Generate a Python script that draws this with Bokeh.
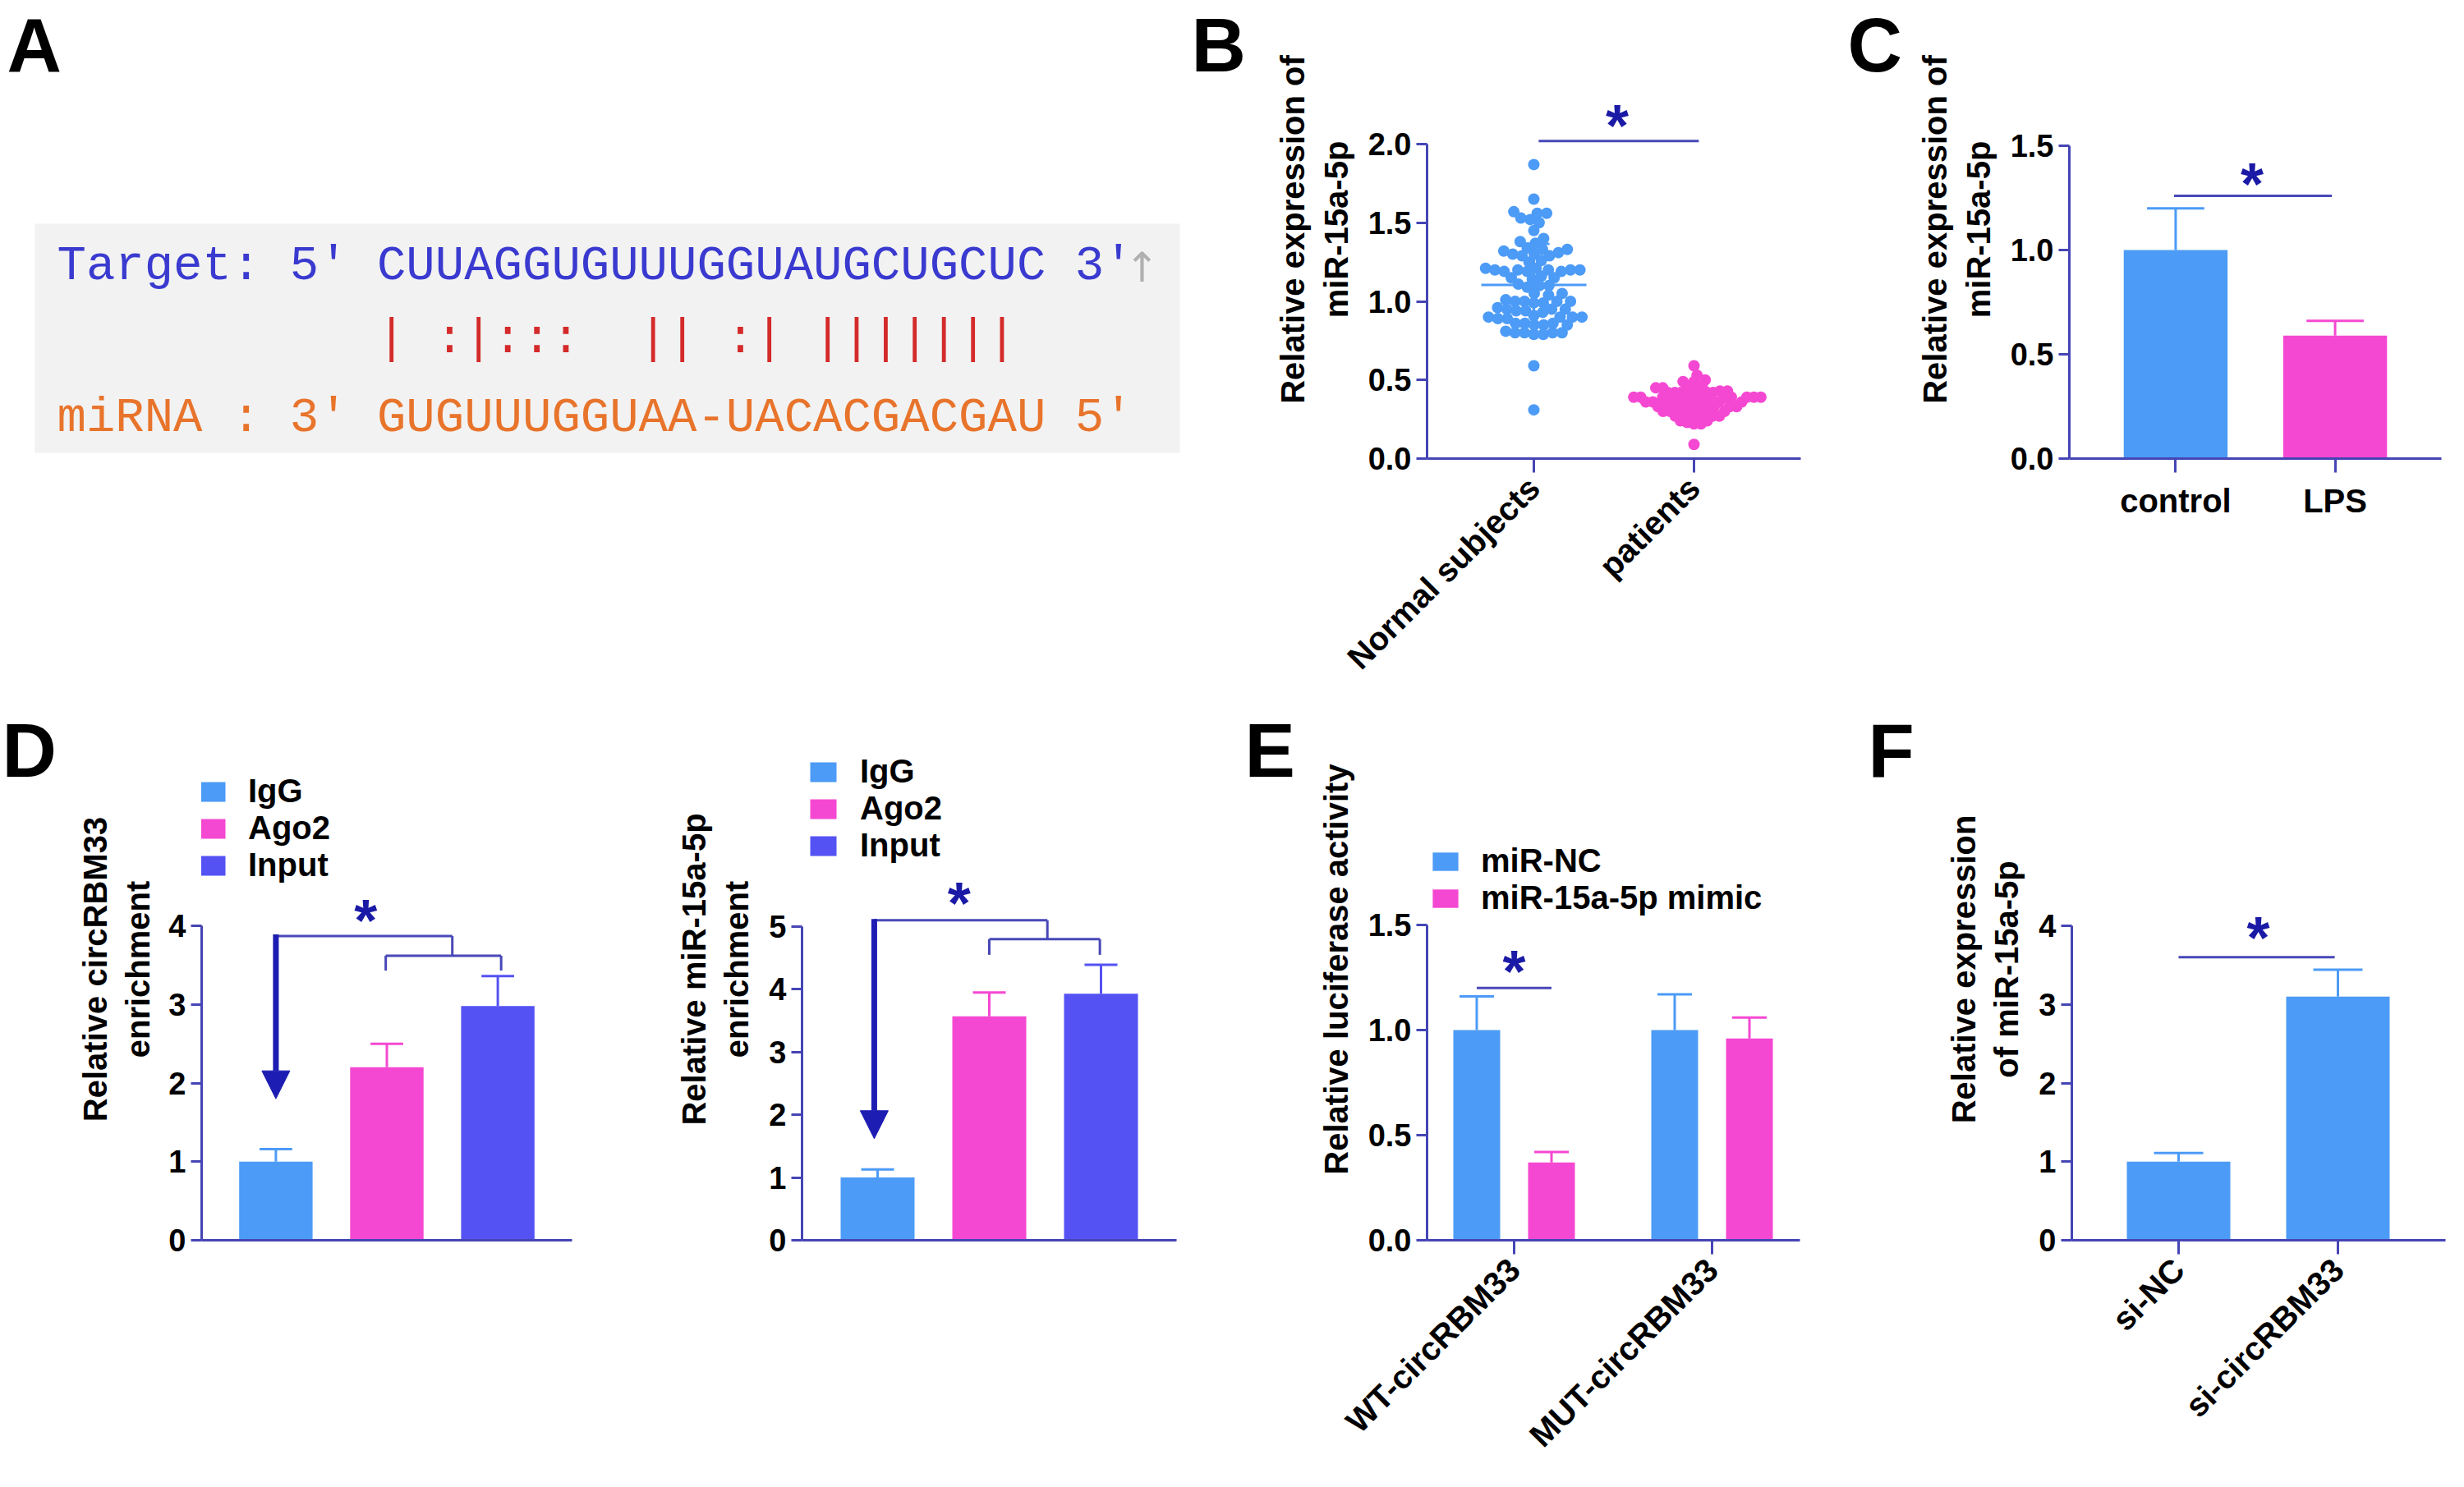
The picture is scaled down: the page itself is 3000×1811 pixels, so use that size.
import math
import numpy as np
from bokeh.plotting import figure
from bokeh.layouts import row, column
from bokeh.models import (Range1d, FixedTicker, Legend, LegendItem, Arrow,
                          NormalHead, NumeralTickFormatter, ColumnDataSource)
from bokeh.core.properties import value
from bokeh.embed import file_html
from bokeh.resources import INLINE

# ------------------------------------------------------------------ data
# Panel A : target / miRNA pairing
target_line = "Target: 5' CUUAGGUGUUUGGUAUGCUGCUC 3'"
pair_marks = list("| :|:::  || :| |||||||")
mirna_line = "miRNA : 3' GUGUUUGGUAA-UACACGACGAU 5'"

# Panel B : scatter (relative expression of miR-15a-5p)
b_groups = ["Normal subjects", "patients"]
b_normal = [1.87, 1.65, 1.57, 1.56, 1.56, 1.53, 1.52, 1.50, 1.45, 1.40, 1.38, 1.37,
            1.34, 1.33, 1.33, 1.32, 1.31, 1.30, 1.30, 1.29, 1.29, 1.26, 1.25,
            1.21, 1.21, 1.20, 1.20, 1.20, 1.19, 1.19, 1.20, 1.20, 1.19,
            1.15, 1.15, 1.14, 1.16, 1.10, 1.10, 1.09, 1.11, 1.05, 1.05, 1.04,
            1.00, 1.00, 1.01, 0.99, 1.00, 1.00, 0.99,
            0.95, 0.94, 0.95, 0.96, 0.94, 0.95, 0.93,
            0.90, 0.90, 0.89, 0.91, 0.90, 0.90, 0.89,
            0.86, 0.85, 0.86, 0.85, 0.85, 0.86,
            0.80, 0.80, 0.81, 0.79, 0.80, 0.80, 0.79, 0.59, 0.31]
b_patients = [0.59, 0.53, 0.50, 0.49, 0.49, 0.46, 0.45, 0.45, 0.44, 0.45,
              0.42, 0.42, 0.43, 0.42, 0.41, 0.42, 0.42, 0.43,
              0.39, 0.39, 0.38, 0.39, 0.39, 0.40, 0.39, 0.38, 0.39, 0.39, 0.38, 0.39,
              0.36, 0.36, 0.35, 0.36, 0.36, 0.37, 0.36, 0.36,
              0.33, 0.33, 0.32, 0.33, 0.33, 0.34, 0.33,
              0.30, 0.30, 0.29, 0.30, 0.31, 0.30,
              0.27, 0.27, 0.26, 0.27, 0.27,
              0.24, 0.24, 0.23, 0.22, 0.22, 0.09]

# Panel C
c_groups = ["control", "LPS"]
c_mean = [1.00, 0.59]
c_err = [0.20, 0.07]

# Panel D
d_series = ["IgG", "Ago2", "Input"]
d1_mean = [1.00, 2.20, 2.98]
d1_err = [0.16, 0.30, 0.38]
d2_mean = [1.00, 3.57, 3.93]
d2_err = [0.13, 0.38, 0.46]

# Panel E
e_groups = ["WT-circRBM33", "MUT-circRBM33"]
e_series = ["miR-NC", "miR-15a-5p mimic"]
e_nc = [1.00, 1.00]
e_nc_err = [0.16, 0.17]
e_mimic = [0.37, 0.96]
e_mimic_err = [0.05, 0.10]

# Panel F
f_groups = ["si-NC", "si-circRBM33"]
f_mean = [1.00, 3.10]
f_err = [0.11, 0.34]

# ------------------------------------------------------------------ style
FONT = "Liberation Sans"
MONO = "Liberation Mono"
BLUE = "#4c9bf6"
PINK = "#f548d2"
INDIGO = "#5552f4"
AXIS = "#4545b5"
SIG = "#4848b8"
STAR = "#1a1aa6"
ARROWC = "#1d1db3"
SEQ_BLUE = "#3a3ad0"
SEQ_ORANGE = "#e8742c"
SEQ_RED = "#d42a2a"
LETTER_SIZE = "92px"
LETTER_SHIFT = -32     # px, baseline correction for the big panel letters
SEQ_SHIFT = -11        # px, baseline correction for the sequence lines
STAR_SHIFT = 10        # px, vertical centring of the asterisk

TOP_ROW = (0, 850)        # page y of the top row
BOT_ROW = (850, 1795)     # page y of the bottom row
TOP_FRAME = (0, 558)      # aligned frame top / bottom, top row
BOT_FRAME = (850, 1510)   # aligned frame top / bottom, bottom row

TXT = dict(text_line_height=1.0, text_baseline="alphabetic")


class Panel:
    def __init__(self, fig_x, row_y, frame_x, frame_y, x_first_px, x_pitch_px, y_ppu):
        fx0, fx1 = fig_x
        ry0, ry1 = row_y
        gx0, gx1 = frame_x
        gy0, gy1 = frame_y
        self.gx0, self.gy1 = gx0, gy1
        self.ppx, self.ppy = x_pitch_px, y_ppu
        self.xs = 1 - x_first_px / x_pitch_px
        fw, fh = gx1 - gx0, gy1 - gy0
        p = figure(width=fx1 - fx0, height=ry1 - ry0,
                   x_range=Range1d(self.xs, self.xs + fw / x_pitch_px),
                   y_range=Range1d(0, fh / y_ppu),
                   output_backend="svg", toolbar_location=None,
                   min_border_left=gx0 - fx0, min_border_right=fx1 - gx1,
                   min_border_top=gy0 - ry0, min_border_bottom=ry1 - gy1)
        p.outline_line_color = None
        p.grid.visible = False
        for ax in (p.xaxis[0], p.yaxis[0]):
            ax.axis_line_color = AXIS
            ax.axis_line_width = 3
            ax.major_tick_line_color = AXIS
            ax.major_tick_line_width = 3
            ax.major_tick_in = 0
            ax.minor_tick_line_color = None
            ax.major_label_text_font = FONT
            ax.major_label_text_font_style = "bold"
            ax.major_label_text_font_size = "38px"
            ax.major_label_text_color = "black"
            ax.axis_label_text_font = FONT
            ax.axis_label_text_font_style = "bold"
            ax.axis_label_text_font_size = "40px"
            ax.axis_label_text_color = "black"
            ax.axis_label_text_line_height = 1.2
        p.yaxis.major_tick_out = 13
        p.yaxis.major_label_standoff = 6
        p.yaxis.axis_label_standoff = 14
        p.xaxis.major_tick_out = 17
        p.xaxis.major_label_standoff = 12
        self.p = p

    def dx(self, page_x):
        return self.xs + (page_x - self.gx0) / self.ppx

    def dy(self, page_y):
        return (self.gy1 - page_y) / self.ppy

    def y_axis(self, ticks, fmt, label):
        p = self.p
        p.yaxis.ticker = FixedTicker(ticks=ticks)
        p.yaxis.formatter = NumeralTickFormatter(format=fmt)
        p.yaxis.bounds = (ticks[0], ticks[-1])
        p.yaxis.axis_label = label

    def x_axis_end(self, page_x):
        self.p.xaxis.bounds = (self.xs, self.dx(page_x))

    def x_cats(self, names, rotate=False):
        p = self.p
        p.xaxis.ticker = FixedTicker(ticks=list(range(1, len(names) + 1)))
        p.xaxis.major_label_overrides = {i + 1: n for i, n in enumerate(names)}
        p.xaxis.major_label_text_font_size = "40px"
        if rotate:
            p.xaxis.major_label_orientation = math.pi / 4

    def no_x_ticks(self):
        self.p.xaxis.ticker = FixedTicker(ticks=[])
        self.p.xaxis.major_tick_line_color = None

    def bars(self, xs, tops, errs, colors, width_px, cap_px):
        p = self.p
        src = ColumnDataSource(dict(x=xs, top=tops, color=colors))
        r = p.vbar(x="x", top="top", bottom=0, width=width_px / self.ppx, fill_color="color",
                   line_color=None, source=src)
        hi = [t + e for t, e in zip(tops, errs)]
        hw = cap_px / 2 / self.ppx
        p.segment(xs, tops, xs, hi, line_color=colors, line_width=3)
        p.segment([x - hw for x in xs], hi, [x + hw for x in xs], hi,
                  line_color=colors, line_width=3)
        return r

    def sig(self, x0, x1, y):
        self.p.segment([x0], [y], [x1], [y], line_color=SIG, line_width=3)

    def star(self, x, y):
        self.p.text([x], [y], text=["*"], text_font=value(FONT), text_font_style="bold",
                    text_font_size="72px", text_color=STAR, text_align="center",
                    y_offset=STAR_SHIFT, **TXT)

    def letter(self, ch, page_x, page_y):
        self.p.text([self.dx(page_x)], [self.dy(page_y)], text=[ch], text_font=value(FONT),
                    text_font_style="bold", text_font_size=LETTER_SIZE, text_color="black",
                    text_align="left", y_offset=LETTER_SHIFT, **TXT)

    def legend(self, items, page_x, page_bottom, gw, gh, standoff):
        lg = Legend(items=items, location=(page_x - self.gx0, self.gy1 - page_bottom),
                    glyph_width=gw, glyph_height=gh,
                    label_standoff=standoff, spacing=0, padding=0, margin=0,
                    border_line_color=None, background_fill_alpha=0,
                    label_text_font=FONT, label_text_font_style="bold",
                    label_text_font_size="40px", label_text_color="black")
        self.p.add_layout(lg)


def plain_fig(fig_x, row_y, frame_y):
    """Axis-free canvas in page coordinates (used for panel A and the letter D)."""
    fx0, fx1 = fig_x
    ry0, ry1 = row_y
    gy0, gy1 = frame_y
    p = figure(width=fx1 - fx0, height=ry1 - ry0, x_range=Range1d(fx0, fx1),
               y_range=Range1d(gy1, gy0), output_backend="svg", toolbar_location=None,
               x_axis_location=None, y_axis_location=None,
               min_border_left=0, min_border_right=0,
               min_border_top=gy0 - ry0, min_border_bottom=ry1 - gy1)
    p.outline_line_color = None
    p.grid.visible = False
    return p


def swarm(vals, center, d_px, ppu_x, ppu_y):
    order = sorted(range(len(vals)), key=lambda i: vals[i])
    placed = []
    xs = [0.0] * len(vals)
    for i in order:
        y = vals[i] * ppu_y
        cands = [0.0]
        for (qx, qy) in placed:
            dy = y - qy
            if abs(dy) < d_px:
                ddx = math.sqrt(d_px ** 2 - dy ** 2)
                cands += [qx + ddx, qx - ddx]
        cands.sort(key=abs)
        chosen = 0.0
        for c in cands:
            if all((c - qx) ** 2 + (y - qy) ** 2 >= d_px ** 2 - 1e-6 for qx, qy in placed):
                chosen = c
                break
        placed.append((chosen, y))
        xs[i] = center + chosen / ppu_x
    return xs


# ------------------------------------------------------------------ panel A (+ letter B)
pA = plain_fig((0, 1530), TOP_ROW, TOP_FRAME)
pA.quad(left=[42], right=[1436], top=[272], bottom=[551], fill_color="#f2f2f2", line_color=None)
SEQ_SIZE = 59
pitch = 0.6 * SEQ_SIZE
x0 = 69
pA.text([x0], [335], text=[target_line], text_font=value(MONO), text_font_size=f"{SEQ_SIZE}px",
        text_color=SEQ_BLUE, text_align="left", y_offset=SEQ_SHIFT, **TXT)
pA.text([x0], [520], text=[mirna_line], text_font=value(MONO), text_font_size=f"{SEQ_SIZE}px",
        text_color=SEQ_ORANGE, text_align="left", y_offset=SEQ_SHIFT, **TXT)
offset = target_line.index("C")
px_ = [x0 + (offset + i + 0.5) * pitch for i, ch in enumerate(pair_marks) if ch != " "]
pc_ = [ch for ch in pair_marks if ch != " "]
pA.text(px_, [424] * len(px_), text=pc_, text_font=value(MONO), text_font_size=f"{SEQ_SIZE}px",
        text_color=SEQ_RED, text_align="center", y_offset=SEQ_SHIFT, **TXT)
pA.text([1390], [336], text=["\u2191"], text_font=value("DejaVu Sans"), text_font_size="50px",
        text_color="#b0b0b0", text_align="center", y_offset=SEQ_SHIFT, **TXT)
for ch, lx in (("A", 8), ("B", 1450)):
    pA.text([lx], [86], text=[ch], text_font=value(FONT), text_font_style="bold",
            text_font_size=LETTER_SIZE, text_color="black", y_offset=LETTER_SHIFT, **TXT)

# ------------------------------------------------------------------ panel B (+ letter C)
B = Panel((1530, 2330), TOP_ROW, (1737, 2330), TOP_FRAME, 130, 195, (558 - 175) / 2.0)
B.y_axis([0, 0.5, 1.0, 1.5, 2.0], "0.0", "Relative expression of\nmiR-15a-5p")
B.x_cats(b_groups, rotate=True)
B.x_axis_end(2192)
for ci, (vals, col, dpx) in enumerate([(b_normal, BLUE, 11.5), (b_patients, PINK, 8.5)]):
    cx = ci + 1
    xs = swarm(vals, cx, dpx, B.ppx, B.ppy)
    B.p.scatter(xs, vals, size=14, fill_color=col, line_color=None)
    m = float(np.mean(vals))
    s = float(np.std(vals, ddof=1))
    hw = 64 / B.ppx
    cw = 19 / B.ppx
    B.p.segment([cx - hw], [m], [cx + hw], [m], line_color=col, line_width=3)
    B.p.segment([cx], [m - s], [cx], [m + s], line_color=col, line_width=3)
    B.p.segment([cx - cw, cx - cw], [m - s, m + s], [cx + cw, cx + cw], [m - s, m + s],
                line_color=col, line_width=3)
B.sig(1.03, 2.03, 2.02)
B.star(1.52, 2.17)
B.letter("C", 2249, 86)

# ------------------------------------------------------------------ panel C
C = Panel((2330, 2992), TOP_ROW, (2517, 2972), TOP_FRAME, 130, 195, (558 - 177) / 1.5)
C.y_axis([0, 0.5, 1.0, 1.5], "0.0", "Relative expression of\nmiR-15a-5p")
C.x_cats(c_groups)
C.bars([1, 2], c_mean, c_err, [BLUE, PINK], 127, 70)
C.sig(0.99, 1.98, 1.26)
C.star(1.48, 1.355)

# ------------------------------------------------------------------ letter D
pLD = plain_fig((0, 90), BOT_ROW, BOT_FRAME)
pLD.text([2], [945], text=["D"], text_font=value(FONT), text_font_style="bold",
         text_font_size=LETTER_SIZE, text_color="black", y_offset=LETTER_SHIFT, **TXT)

# ------------------------------------------------------------------ panel D (left)
D1 = Panel((90, 740), BOT_ROW, (242, 696), BOT_FRAME, 91, 136, (1510 - 1127) / 4.0)
D1.p.yaxis.axis_label_standoff = 12
D1.y_axis([0, 1, 2, 3, 4], "0", "Relative circRBM33\nenrichment")
D1.no_x_ticks()
rD1 = D1.bars([1, 2, 3], d1_mean, d1_err, [BLUE, PINK, INDIGO], 90, 40)
D1.p.segment([1.0, 2.59, 1.99, 1.99, 3.03], [3.87, 3.87, 3.62, 3.62, 3.62],
             [2.59, 2.59, 3.03, 1.99, 3.03], [3.87, 3.62, 3.62, 3.43, 3.43],
             line_color=SIG, line_width=3)
D1.p.add_layout(Arrow(x_start=1.0, y_start=3.89, x_end=1.0, y_end=1.80, line_color=ARROWC,
                      line_width=7, end=NormalHead(size=34, fill_color=ARROWC, line_color=ARROWC)))
D1.star(1.81, 4.17)
D1.legend([LegendItem(label=n, renderers=[rD1], index=i) for i, n in enumerate(d_series)],
          235, 1076, 40, 30, 24)

# ------------------------------------------------------------------ panel D (right) (+ letter E)
D2 = Panel((740, 1592), BOT_ROW, (976, 1592), BOT_FRAME, 92, 136, (1510 - 1128) / 5.0)
D2.y_axis([0, 1, 2, 3, 4, 5], "0", "Relative miR-15a-5p\nenrichment")
D2.no_x_ticks()
D2.x_axis_end(1432)
rD2 = D2.bars([1, 2, 3], d2_mean, d2_err, [BLUE, PINK, INDIGO], 90, 40)
D2.p.segment([0.97, 2.52, 2.0, 2.0, 2.99], [5.1, 5.1, 4.8, 4.8, 4.8],
             [2.52, 2.52, 2.99, 2.0, 2.99], [5.1, 4.8, 4.8, 4.55, 4.55],
             line_color=SIG, line_width=3)
D2.p.add_layout(Arrow(x_start=0.97, y_start=5.12, x_end=0.97, y_end=1.62, line_color=ARROWC,
                      line_width=7, end=NormalHead(size=34, fill_color=ARROWC, line_color=ARROWC)))
D2.star(1.73, 5.5)
D2.legend([LegendItem(label=n, renderers=[rD2], index=i) for i, n in enumerate(d_series)],
          982, 1052, 40, 30, 25)
D2.letter("E", 1515, 945)

# ------------------------------------------------------------------ panel E (+ letter F)
E = Panel((1592, 2352), BOT_ROW, (1737, 2352), BOT_FRAME, 106, 241, (1510 - 1126) / 1.5)
E.y_axis([0, 0.5, 1.0, 1.5], "0.0", "Relative luciferase activity")
E.x_cats(e_groups, rotate=True)
E.x_axis_end(2191)
off = 45.5 / E.ppx
rE1 = E.bars([1 - off, 2 - off], e_nc, e_nc_err, [BLUE, BLUE], 57, 42)
rE2 = E.bars([1 + off, 2 + off], e_mimic, e_mimic_err, [PINK, PINK], 57, 42)
E.sig(1 - off, 1 + off, 1.20)
E.star(1.0, 1.32)
E.legend([LegendItem(label=e_series[0], renderers=[rE1]),
          LegendItem(label=e_series[1], renderers=[rE2])], 1740, 1116, 39, 28, 24)
E.letter("F", 2274, 945)

# ------------------------------------------------------------------ panel F
F = Panel((2352, 2992), BOT_ROW, (2522, 2977), BOT_FRAME, 130, 194, (1510 - 1127) / 4.0)
F.y_axis([0, 1, 2, 3, 4], "0", "Relative expression\nof miR-15a-5p")
F.x_cats(f_groups, rotate=True)
F.bars([1, 2], f_mean, f_err, [BLUE, BLUE], 126, 60)
F.sig(1.0, 1.98, 3.6)
F.star(1.5, 3.95)

layout = column(row(pA, B.p, C.p), row(pLD, D1.p, D2.p, E.p, F.p))
open("out.html", "w").write(file_html(layout, INLINE))
